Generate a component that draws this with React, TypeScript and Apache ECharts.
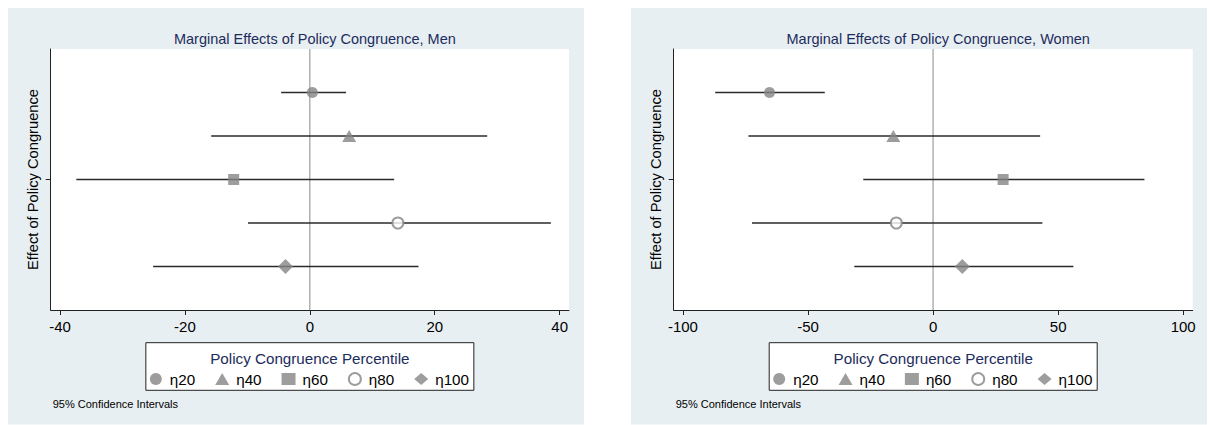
import React, { useEffect, useRef } from "react";
import * as echarts from "echarts";

const CATS = ["η20", "η40", "η60", "η80", "η100"];
const ROWS = [1, 2, 3, 4, 5];
const SYMBOLS = ["circle", "triangle", "rect", "emptyCircle", "diamond"];
const SYMBOL_SIZES: any[] = [11, [14, 12], 11, 11, 15];

const MEN_EST = [0.4, 6.3, -12.2, 14.1, -3.9];
const MEN_LO = [-4.6, -15.8, -37.4, -9.9, -25.1];
const MEN_HI = [5.8, 28.4, 13.5, 38.6, 17.4];
const MEN_TICKS = [-40, -20, 0, 20, 40];

const WOMEN_EST = [-65.4, -15.9, 28.0, -14.7, 11.7];
const WOMEN_LO = [-87.1, -73.8, -27.9, -72.4, -31.5];
const WOMEN_HI = [-43.3, 42.8, 84.5, 43.7, 56.1];
const WOMEN_TICKS = [-100, -50, 0, 50, 100];

const TITLES = [
  "Marginal Effects of Policy Congruence, Men",
  "Marginal Effects of Policy Congruence, Women",
];
const Y_TITLE = "Effect of Policy Congruence";
const LEGEND_TITLE = "Policy Congruence Percentile";
const NOTE = "95% Confidence Intervals";

const FONT = "'Liberation Sans', Arial, Helvetica, sans-serif";
const NAVY = "#1c2c5c";
const MARK = "#858585";
const BG = "#e8eff2";

export default function App() {
  const ref = useRef<HTMLDivElement>(null);
  useEffect(() => {
    if (!ref.current) return;
    const chart = echarts.init(ref.current, undefined, { renderer: "svg" });

    const panels = [
      { est: MEN_EST, lo: MEN_LO, hi: MEN_HI, ticks: MEN_TICKS, min: -41.5, max: 41.5, left: 50.7, width: 518.3, bgX: 8 },
      { est: WOMEN_EST, lo: WOMEN_LO, hi: WOMEN_HI, ticks: WOMEN_TICKS, min: -103.7, max: 103.8, left: 673.7, width: 519, bgX: 631 },
    ];

    const grid: any[] = [];
    const xAxis: any[] = [];
    const yAxis: any[] = [];
    const series: any[] = [];
    const title: any[] = [];
    const legend: any[] = [];
    const graphic: any[] = [];

    panels.forEach((p, i) => {
      const cx = p.left + p.width / 2;
      graphic.push({
        type: "rect",
        z: -10,
        shape: { x: p.bgX, y: 8, width: 576, height: 416.5 },
        style: { fill: BG },
      });
      graphic.push({
        type: "rect",
        z: 50,
        shape: { x: cx - 164, y: 342.7, width: 328, height: 47.6 },
        style: { fill: "#fff", stroke: "#222", lineWidth: 1 },
      });
      graphic.push({
        type: "text",
        z: 51,
        x: cx,
        y: 358.5,
        style: { text: LEGEND_TITLE, fill: NAVY, font: `15.2px ${FONT}`, textAlign: "center", textVerticalAlign: "middle" },
      });
      graphic.push({
        type: "text",
        z: 51,
        x: p.left + 2,
        y: 404,
        style: { text: NOTE, fill: "#000", font: `11px ${FONT}`, textAlign: "left", textVerticalAlign: "middle" },
      });

      grid.push({
        left: p.left,
        top: 49,
        width: p.width,
        height: 261,
        show: true,
        backgroundColor: "#fff",
        borderWidth: 0,
      });
      title.push({
        text: TITLES[i],
        left: cx,
        top: 26,
        textAlign: "center",
        textStyle: { color: NAVY, fontSize: 14.5, fontWeight: "normal", fontFamily: FONT },
      });
      xAxis.push({
        type: "value",
        gridIndex: i,
        min: p.min,
        max: p.max,
        axisLine: { show: true, onZero: false, lineStyle: { color: "#222", width: 1 } },
        axisTick: { show: true, length: 5, customValues: p.ticks, lineStyle: { color: "#222" } },
        axisLabel: { customValues: p.ticks, fontSize: 15, color: "#000", fontFamily: FONT, margin: 8.5 },
        splitLine: { show: false },
      });
      yAxis.push({
        type: "value",
        gridIndex: i,
        min: 0,
        max: 6,
        inverse: true,
        name: Y_TITLE,
        nameLocation: "middle",
        nameRotate: 90,
        nameGap: 10.5,
        nameTextStyle: { fontSize: 14.7, color: "#000", fontFamily: FONT },
        axisLine: { show: true, onZero: false, lineStyle: { color: "#222", width: 1 } },
        axisTick: { show: true, length: 5, customValues: [3], lineStyle: { color: "#222" } },
        axisLabel: { show: false, customValues: [3] },
        splitLine: { show: false },
      });

      series.push({
        type: "line",
        xAxisIndex: i,
        yAxisIndex: i,
        data: [[0, 0], [0, 6]],
        symbol: "none",
        silent: true,
        z: 1,
        lineStyle: { color: "#8a8a8a", width: 1 },
      });
      series.push({
        type: "custom",
        xAxisIndex: i,
        yAxisIndex: i,
        z: 2,
        silent: true,
        data: ROWS.map((r, k) => [p.lo[k], p.hi[k], r]),
        encode: { x: [0, 1], y: 2 },
        renderItem: (params: any, api: any) => {
          const a = api.coord([api.value(0), api.value(2)]);
          const b = api.coord([api.value(1), api.value(2)]);
          return {
            type: "line",
            shape: { x1: a[0], y1: a[1], x2: b[0], y2: b[1] },
            style: { stroke: "#2a2a2a", lineWidth: 1.5 },
          };
        },
      });
      CATS.forEach((c, k) => {
        series.push({
          type: "scatter",
          name: c,
          xAxisIndex: i,
          yAxisIndex: i,
          z: 3,
          symbol: SYMBOLS[k],
          symbolSize: SYMBOL_SIZES[k],
          itemStyle:
            SYMBOLS[k] === "emptyCircle"
              ? { color: MARK, borderColor: MARK, borderWidth: 1 }
              : { color: MARK },
          data: [[p.est[k], ROWS[k]]],
        });
      });

      legend.push({
        data: CATS,
        left: cx - 160,
        top: 371.5,
        orient: "horizontal",
        itemWidth: 14,
        itemHeight: 12,
        itemGap: 20,
        padding: 0,
        z: 60,
        selectedMode: false,
        textStyle: { fontSize: 15.2, color: "#000", fontFamily: FONT, padding: [0, 0, 0, 2] },
      });
    });

    chart.setOption({
      animation: false,
      backgroundColor: "#fff",
      title,
      grid,
      xAxis,
      yAxis,
      legend,
      series,
      graphic,
    });
    return () => chart.dispose();
  }, []);

  return (
    <div
      ref={ref}
      style={{ position: "absolute", left: 0, top: 0, width: 1209, height: 425 }}
    />
  );
}
